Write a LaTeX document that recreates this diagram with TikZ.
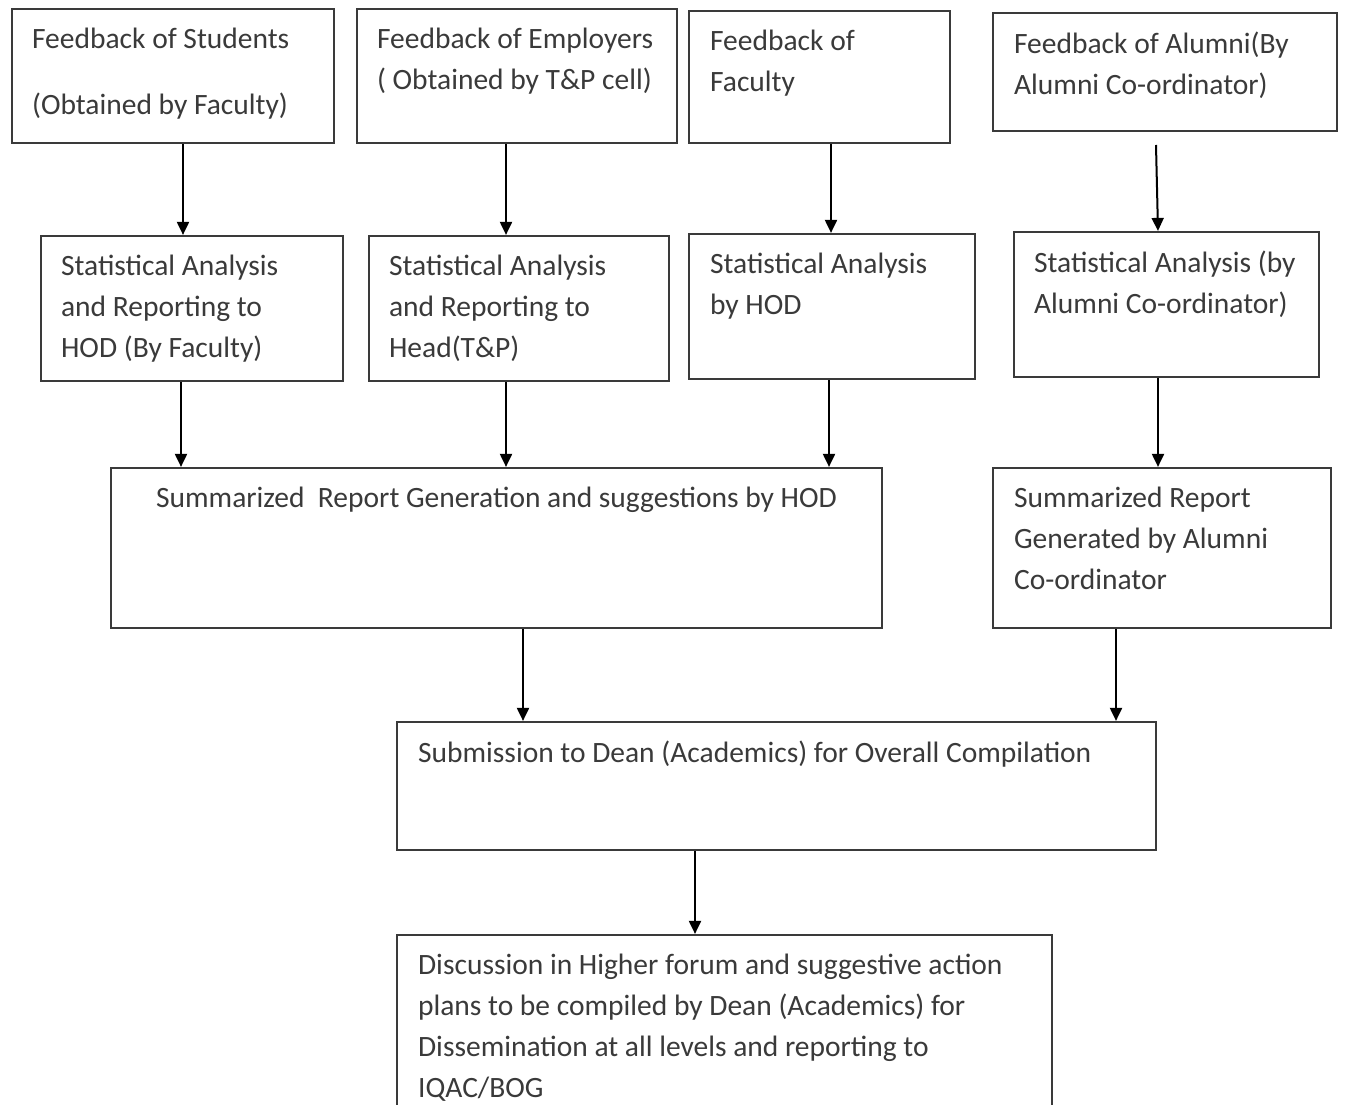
\documentclass[tikz,border=0pt]{standalone}
\usepackage{fontspec}
\setmainfont{Carlito}
\usetikzlibrary{calc,arrows.meta}
\definecolor{boxc}{HTML}{3A3A3A}
\definecolor{textc}{HTML}{3A3A3A}
\tikzset{
  box/.style={draw=boxc, line width=2.2pt, rectangle, inner sep=0pt},
  txt/.style={anchor=north west, align=left, inner sep=0pt, text=textc,
              font=\fontsize{29.5}{41}\selectfont},
  arr/.style={draw=black, line width=2pt, -{Triangle[length=13pt,width=12pt]}}
}
\newcommand\mybox[7]{%
  \node[box, minimum width={#4-#2}, minimum height={#5-#3}] (#1) at ({(#2+#4)/2},{(#3+#5)/2}) {};
  \node[txt] (#1t) at ($(#1.north west)+(#6,20)$) {#7};
}
\begin{document}
\begin{tikzpicture}[x=1pt,y=-1pt]
\clip (0,0) rectangle (1345,1105);
\fill[white] (0,0) rectangle (1345,1105);

\mybox{b1}{12}{9}{334}{143}{21}{Feedback of Students\\[25pt](Obtained by Faculty)}
\mybox{b2}{357}{9}{677}{143}{21}{Feedback of Employers\\( Obtained by T\&P cell)}
\mybox{b3}{689}{11}{950}{143}{22}{Feedback of\\Faculty}
\mybox{b4}{993}{13}{1337}{131}{22}{Feedback of Alumni(By\\Alumni Co-ordinator)}

\mybox{b5}{41}{236}{343}{381}{21}{Statistical Analysis\\and Reporting to\\HOD (By Faculty)}
\mybox{b6}{369}{236}{669}{381}{21}{Statistical Analysis\\and Reporting to\\Head(T\&P)}
\mybox{b7}{689}{234}{975}{379}{22}{Statistical Analysis\\by HOD}
\mybox{b8}{1014}{232}{1319}{377}{21}{Statistical Analysis (by\\Alumni Co-ordinator)}

\mybox{b9}{111}{468}{882}{628}{46}{Summarized\ \ Report Generation and suggestions by HOD}
\mybox{b10}{993}{468}{1331}{628}{22}{Summarized Report\\Generated by Alumni\\Co-ordinator}

\mybox{b11}{397}{722}{1156}{850}{22}{Submission to Dean (Academics) for Overall Compilation}
\mybox{b12}{397}{935}{1052}{1140}{22}{Discussion in Higher forum and suggestive action\\plans to be compiled by Dean (Academics) for\\Dissemination at all levels and reporting to\\IQAC/BOG}

\draw[arr] (183,0 |- b1.south) -- (183,0 |- b5.north);
\draw[arr] (506,0 |- b2.south) -- (506,0 |- b6.north);
\draw[arr] (831,0 |- b3.south) -- (831,0 |- b7.north);
\coordinate (a4) at (1156,145);
\draw[arr] (a4) -- (1158,0 |- b8.north);

\draw[arr] (181,0 |- b5.south) -- (181,0 |- b9.north);
\draw[arr] (506,0 |- b6.south) -- (506,0 |- b9.north);
\draw[arr] (829,0 |- b7.south) -- (829,0 |- b9.north);
\draw[arr] (1158,0 |- b8.south) -- (1158,0 |- b10.north);

\draw[arr] (523,0 |- b9.south) -- (523,0 |- b11.north);
\draw[arr] (1116,0 |- b10.south) -- (1116,0 |- b11.north);

\draw[arr] (695,0 |- b11.south) -- (695,0 |- b12.north);
\end{tikzpicture}
\end{document}
